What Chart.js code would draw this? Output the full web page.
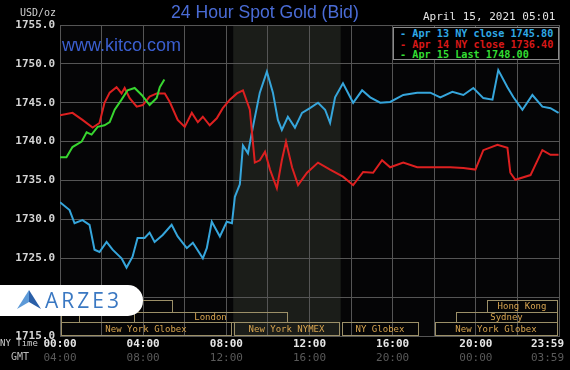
<!DOCTYPE html>
<html><head><meta charset="utf-8">
<script src="https://cdn.jsdelivr.net/npm/chart.js@4"></script>
<style>
html,body{margin:0;padding:0;background:#000;width:570px;height:370px;overflow:hidden}
#wrap{position:relative;width:570px;height:370px;background:#000}
canvas{position:absolute;left:0;top:0}
.ov{position:absolute;white-space:pre;line-height:1}
.mono{font-family:"DejaVu Sans Mono",monospace}
#legend{position:absolute;left:393px;top:27px;width:166px;height:33px;background:#000;border:1px solid #8a8a8a;box-sizing:border-box;padding:1px 0 0 6px;font-family:"DejaVu Sans Mono",monospace;font-weight:bold;font-size:10.2px;line-height:10.5px}
#logo{position:absolute;left:0;top:285px;width:143px;height:31px;background:#fff;border-radius:0 15px 15px 0}
</style></head>
<body><div id="wrap">
<canvas id="c" width="570" height="370"></canvas>
<div class="ov mono" style="right:514px;top:8px;font-size:10px;color:#d0d0d0">USD/oz</div>
<div class="ov" style="left:171px;top:4px;font-family:'Liberation Sans',Arial,sans-serif;font-size:17.6px;color:#4a6cd6">24 Hour Spot Gold (Bid)</div>
<div class="ov mono" style="left:423px;top:11px;font-size:11px;color:#e4e4e4">April 15, 2021 05:01</div>
<div class="ov" style="left:62px;top:36px;font-family:'Liberation Sans',Arial,sans-serif;font-size:18px;color:#3b5fd0">www.kitco.com</div>
<div id="legend"><div style="color:#2fa9e6">- Apr 13 NY close 1745.80</div><div style="color:#d81818">- Apr 14 NY close 1736.40</div><div style="color:#33dd33">- Apr 15 Last 1748.00</div></div>
<div id="logo">
<svg style="position:absolute;left:17px;top:5px" width="24" height="20" viewBox="0 0 24 20"><polygon points="12,0 24,19 12,12" fill="#2a5fa8"/><polygon points="12,0 0,19 12,12" fill="#5d9ad8"/></svg>
<div class="ov" style="left:45px;top:5px;font-family:'Open Sans',sans-serif;font-size:21px;letter-spacing:3px;color:#3a78c2">ARZE3</div>
</div>
</div>
<script>
// ---- data (NY time in hours, price USD/oz) ----
const blueHours = [0,0.46,0.70,1.08,1.42,1.66,1.90,2.24,2.53,2.96,3.20,3.49,3.73,4.07,4.31,4.55,4.94,5.37,5.66,6.10,6.39,6.87,7.06,7.30,7.69,8.02,8.27,8.41,8.65,8.80,9.04,9.28,9.61,9.95,10.24,10.48,10.67,10.96,11.30,11.64,12.02,12.41,12.75,12.99,13.23,13.61,14.10,14.53,14.92,15.40,15.88,16.51,17.18,17.81,18.29,18.87,19.40,19.88,20.36,20.80,21.08,21.52,21.81,22.24,22.72,23.20,23.59,23.98];
const blueValues = [1732.2,1731.2,1729.5,1729.9,1729.3,1726.1,1725.8,1727.1,1726.1,1725.0,1723.8,1725.2,1727.6,1727.6,1728.3,1727.1,1728.0,1729.3,1727.8,1726.3,1727.0,1725.0,1726.3,1729.7,1727.8,1729.7,1729.5,1732.9,1734.5,1739.5,1738.5,1741.9,1746.3,1749.0,1746.3,1742.8,1741.5,1743.2,1741.8,1743.7,1744.3,1745.0,1744.1,1742.4,1745.7,1747.5,1745.0,1746.6,1745.7,1745.0,1745.1,1746.0,1746.3,1746.3,1745.7,1746.4,1746.0,1746.9,1745.6,1745.4,1749.2,1747.0,1745.7,1744.1,1746.0,1744.5,1744.3,1743.7];
const redHours = [0,0.60,1.08,1.57,1.90,2.14,2.39,2.72,2.96,3.11,3.35,3.69,3.98,4.31,4.65,5.04,5.28,5.66,6.00,6.34,6.63,6.87,7.20,7.54,7.83,8.17,8.51,8.80,9.13,9.37,9.61,9.86,10.10,10.43,10.67,10.87,11.16,11.45,11.88,12.41,12.99,13.61,14.10,14.58,15.06,15.49,15.88,16.51,17.18,18.14,18.77,19.40,19.98,20.36,21.04,21.52,21.66,21.90,22.63,23.20,23.59,23.98];
const redValues = [1743.4,1743.7,1742.8,1741.8,1742.4,1745.0,1746.3,1747.0,1746.2,1746.9,1745.6,1744.5,1744.7,1745.8,1746.2,1746.2,1745.1,1742.8,1741.9,1743.7,1742.5,1743.2,1742.1,1743.0,1744.3,1745.4,1746.2,1746.6,1744.1,1737.3,1737.6,1738.7,1736.4,1734.0,1737.6,1740.0,1736.7,1734.4,1736.0,1737.3,1736.4,1735.5,1734.4,1736.1,1736.0,1737.6,1736.7,1737.3,1736.7,1736.7,1736.7,1736.6,1736.4,1738.9,1739.6,1739.2,1736.0,1735.1,1735.7,1738.9,1738.3,1738.3];
const greenHours = [0,0.31,0.60,1.04,1.28,1.52,1.81,2.14,2.39,2.63,2.96,3.25,3.59,3.93,4.31,4.65,4.80,5.02];
const greenValues = [1738.0,1738.0,1739.3,1740.0,1741.2,1740.9,1741.9,1742.1,1742.5,1744.1,1745.4,1746.6,1746.9,1746.0,1744.7,1745.6,1747.0,1748.0];
const seriesNames = ['Apr 13 NY close 1745.80','Apr 14 NY close 1736.40','Apr 15 Last 1748.00'];
const yTicks = [1715,1720,1725,1730,1735,1740,1745,1750,1755];
const xLabelHours = [0,4,8,12,16,20,24];
const nyLabels = ['00:00','04:00','08:00','12:00','16:00','20:00','23:59'];
const gmtLabels = ['04:00','08:00','12:00','16:00','20:00','00:00','03:59'];
const sessionNames = ['','London','Sydney','Hong Kong','New York Globex','New York NYMEX','NY Globex','New York Globex',''];
const sessionStart = [0,3.5,19,20.5,0,8.33,13.5,18,0];
const sessionEnd   = [1,11,24,24,8.33,13.5,17.33,24,5.5];
const sessionRow   = [2,2,2,1,3,3,3,3,1];
const nymexHours = [8.33,13.5];

const pts = (h,v)=>h.map((x,i)=>({x:x,y:v[i]}));

const decor = {
  id:'decor',
  beforeDraw(chart){
    const {ctx,chartArea:a,scales:{x}} = chart;
    ctx.save();
    ctx.fillStyle='#050506';
    ctx.fillRect(a.left,a.top,a.right-a.left,a.bottom-a.top);
    const x1=x.getPixelForValue(nymexHours[0]), x2=x.getPixelForValue(nymexHours[1]);
    ctx.fillStyle='#1b1d19';
    ctx.fillRect(x1,a.top,x2-x1,a.bottom-a.top);
    ctx.restore();
  },
  afterDraw(chart){
    const {ctx,chartArea:a,scales:{x}} = chart;
    ctx.save();
    const rowTop={1:a.bottom-36,2:a.bottom-24,3:a.bottom-14};
    const rowH={1:12,2:10,3:13};
    ctx.font='9px "DejaVu Sans Mono", monospace';
    ctx.textAlign='center'; ctx.textBaseline='middle';
    sessionNames.forEach((n,i)=>{
      const x1=Math.round(x.getPixelForValue(sessionStart[i]))+1, x2=Math.round(x.getPixelForValue(sessionEnd[i]))-2;
      const t=rowTop[sessionRow[i]], h=rowH[sessionRow[i]];
      ctx.strokeStyle='#9c9068'; ctx.lineWidth=1;
      ctx.strokeRect(x1+0.5,t+0.5,x2-x1,h);
      if(n){ ctx.fillStyle='#d8a550'; ctx.fillText(n,(x1+x2)/2,t+h/2+1); }
    });
    ctx.textBaseline='middle';
    xLabelHours.forEach((hr,i)=>{
      let px=x.getPixelForValue(hr);
      ctx.textAlign = i===xLabelHours.length-1 ? 'right':'center';
      if(i===xLabelHours.length-1) px=564;
      ctx.font='bold 11px "DejaVu Sans Mono", monospace';
      ctx.fillStyle='#e6e6e6'; ctx.fillText(nyLabels[i],px,344);
      ctx.font='11px "DejaVu Sans Mono", monospace';
      ctx.fillStyle='#5a5a5a'; ctx.fillText(gmtLabels[i],px,358);
    });
    ctx.textAlign='left';
    ctx.font='9px "DejaVu Sans Mono", monospace';
    ctx.fillStyle='#cfcfcf'; ctx.fillText('NY Time',0,344);
    ctx.font='10px "DejaVu Sans Mono", monospace';
    ctx.fillStyle='#bbbbbb'; ctx.fillText('GMT',11,357);
    ctx.restore();
  }
};

new Chart(document.getElementById('c'),{
  type:'line',
  data:{datasets:[
    {label:seriesNames[2],data:pts(greenHours,greenValues),borderColor:'#38d630',borderWidth:2,pointRadius:0,tension:0,order:0},
    {label:seriesNames[1],data:pts(redHours,redValues),borderColor:'#dd2020',borderWidth:2,pointRadius:0,tension:0,order:1},
    {label:seriesNames[0],data:pts(blueHours,blueValues),borderColor:'#36a6dc',borderWidth:2,pointRadius:0,tension:0,order:2}
  ]},
  options:{
    responsive:false,animation:false,devicePixelRatio:1,
    layout:{padding:{top:25,right:11,left:0,bottom:0}},
    plugins:{legend:{display:false},tooltip:{enabled:false},title:{display:false}},
    scales:{
      x:{type:'linear',min:0,max:24,
        ticks:{display:false,stepSize:2},
        grid:{color:'#555555',drawTicks:false,lineWidth:1},
        border:{color:'#555555'},
        afterFit(s){s.height=34;}},
      y:{type:'linear',min:yTicks[0],max:yTicks[yTicks.length-1],
        afterBuildTicks(s){s.ticks=yTicks.map(v=>({value:v}));},
        ticks:{callback:v=>v.toFixed(1),color:'#d4d4d4',padding:5,font:{family:'DejaVu Sans Mono',size:11,weight:'bold'}},
        grid:{color:'#555555',drawTicks:false,lineWidth:1},
        border:{color:'#555555'},
        afterFit(s){s.width=60;}}
    }
  },
  plugins:[decor]
});
</script>
</body></html>
